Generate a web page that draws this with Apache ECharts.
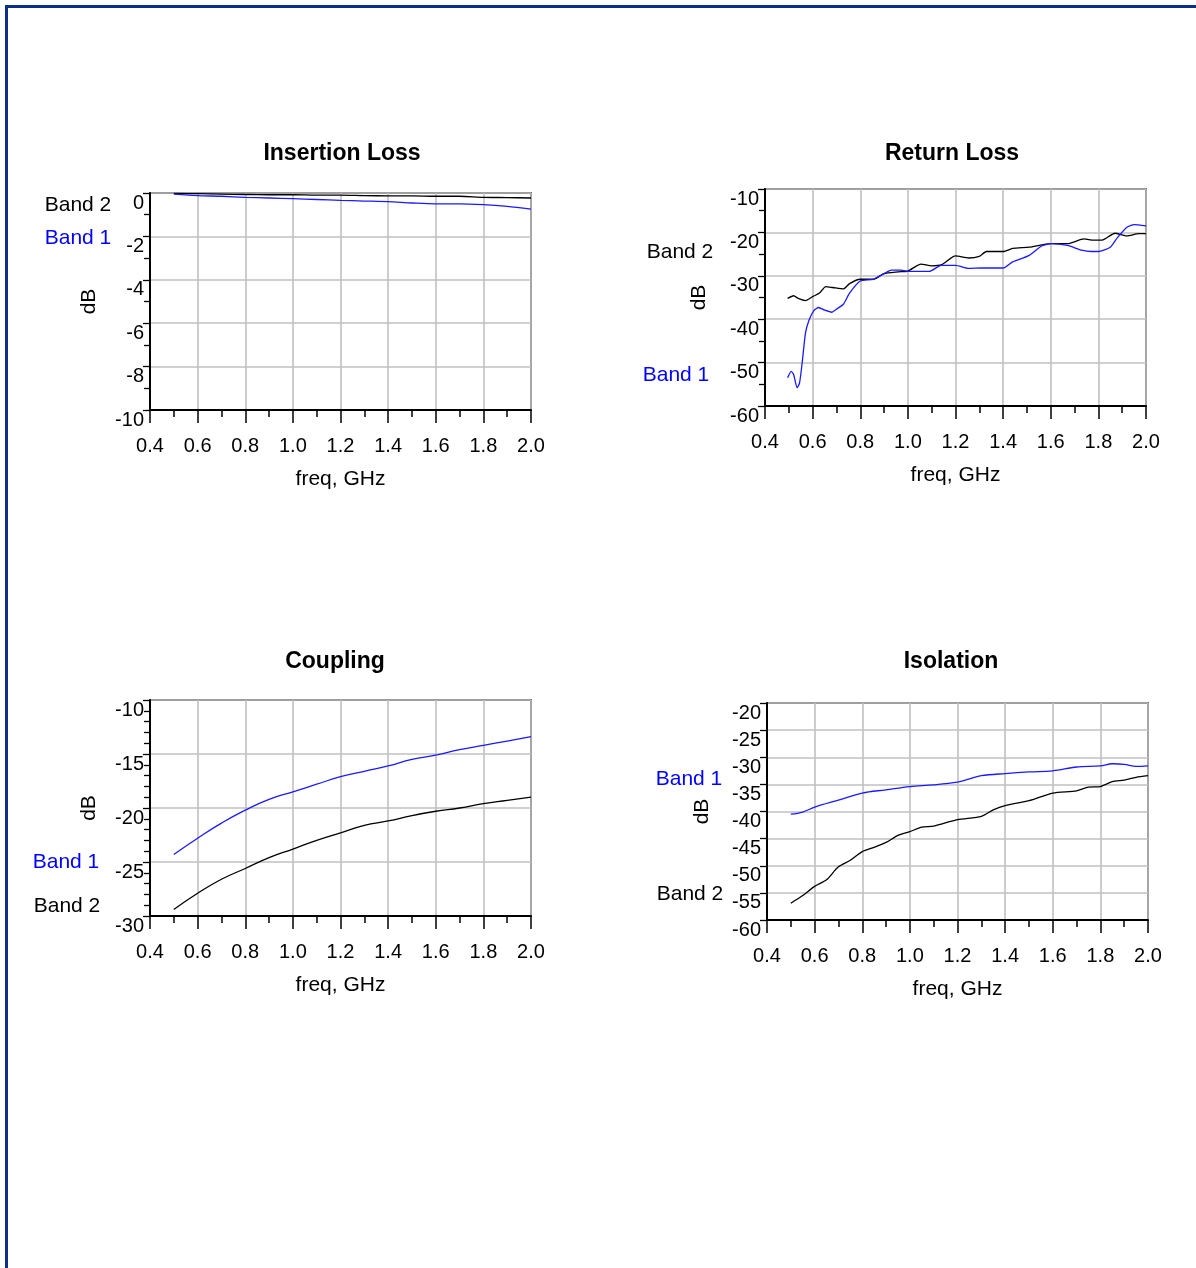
<!DOCTYPE html>
<html><head><meta charset="utf-8">
<script src="https://cdn.jsdelivr.net/npm/echarts@6/dist/echarts.min.js"></script>
<style>html,body{margin:0;padding:0;background:#fff;}#c{width:1196px;height:1268px;}</style>
</head><body><div id="c"></div>
<script>
// ---------- data ----------
const xTickLabels = ['0.4','0.6','0.8','1.0','1.2','1.4','1.6','1.8','2.0'];

// Insertion Loss
const ilFreq  = [0.5,0.6,0.7,0.8,0.9,1.0,1.1,1.2,1.3,1.4,1.5,1.6,1.7,1.8,1.9,2.0];
const ilBand1 = [-0.05,-0.12,-0.15,-0.2,-0.23,-0.26,-0.3,-0.34,-0.37,-0.4,-0.46,-0.5,-0.5,-0.54,-0.62,-0.74];
const ilBand2 = [-0.02,-0.03,-0.05,-0.07,-0.08,-0.08,-0.1,-0.1,-0.12,-0.13,-0.13,-0.15,-0.15,-0.2,-0.21,-0.23];

// Return Loss
const rlFreq2  = [0.495,0.52,0.54,0.57,0.6,0.63,0.655,0.685,0.73,0.755,0.8,0.855,0.9,0.96,1.0,1.055,1.1,1.14,1.2,1.255,1.3,1.33,1.4,1.44,1.51,1.6,1.67,1.74,1.78,1.82,1.87,1.92,1.97,2.0];
const rlBand2  = [-35.2,-34.6,-35.2,-35.7,-34.8,-33.9,-32.5,-32.7,-33,-31.8,-30.8,-30.8,-29.5,-29.1,-28.9,-27.3,-27.7,-27.5,-25.4,-25.9,-25.5,-24.4,-24.4,-23.7,-23.4,-22.6,-22.6,-21.5,-21.8,-21.7,-20.2,-20.8,-20.3,-20.3];
const rlFreq1  = [0.495,0.51,0.52,0.535,0.545,0.556,0.57,0.585,0.605,0.625,0.65,0.68,0.705,0.73,0.755,0.8,0.855,0.9,0.93,0.97,1.01,1.09,1.14,1.2,1.255,1.31,1.4,1.44,1.51,1.56,1.6,1.67,1.73,1.77,1.8,1.85,1.88,1.92,1.95,2.0];
const rlBand1  = [-53.5,-52,-52.7,-55.8,-54.7,-50.1,-43.2,-40.2,-38,-37.3,-37.9,-38.4,-37.5,-36.5,-34,-31.2,-30.8,-29.5,-28.7,-28.7,-29,-29,-27.6,-27.6,-28.3,-28.2,-28.2,-26.8,-25.3,-23.2,-22.6,-23,-24.1,-24.4,-24.4,-23.4,-21.2,-18.8,-18.2,-18.5];

// Coupling
const cpFreq  = [0.5,0.6,0.7,0.8,0.9,1.0,1.1,1.2,1.3,1.4,1.5,1.6,1.7,1.8,1.9,2.0];
const cpBand1 = [-24.3,-22.8,-21.4,-20.2,-19.2,-18.5,-17.8,-17.1,-16.6,-16.1,-15.5,-15.1,-14.6,-14.2,-13.8,-13.4];
const cpBand2 = [-29.4,-27.9,-26.6,-25.6,-24.6,-23.8,-23.0,-22.3,-21.6,-21.2,-20.7,-20.3,-20.0,-19.6,-19.3,-19.0];

// Isolation
const isFreq1  = [0.5,0.55,0.6,0.7,0.8,0.9,1.0,1.1,1.2,1.25,1.3,1.4,1.5,1.6,1.7,1.8,1.85,1.9,1.95,2.0];
const isBand1  = [-40.5,-40.1,-39.2,-37.9,-36.6,-36,-35.4,-35.1,-34.6,-34,-33.4,-33.0,-32.7,-32.5,-31.8,-31.6,-31.2,-31.3,-31.7,-31.6];
const isFreq2  = [0.5,0.55,0.6,0.65,0.7,0.75,0.8,0.85,0.9,0.95,1.0,1.05,1.1,1.2,1.3,1.35,1.4,1.5,1.6,1.7,1.75,1.8,1.85,1.9,1.95,2.0];
const isBand2  = [-56.9,-55.5,-53.8,-52.6,-50.2,-49,-47.4,-46.6,-45.7,-44.4,-43.7,-42.9,-42.7,-41.5,-40.9,-39.7,-38.9,-38,-36.6,-36.2,-35.5,-35.4,-34.5,-34.2,-33.7,-33.4];

// ---------- chart ----------
const FONT = '"Liberation Sans", Arial, Helvetica, sans-serif';
const BLUE_TXT = '#0000ff';
const BLUE_LINE = '#1a1aff';
const BLACK = '#000000';

const zip = (xs, ys) => xs.map((x, i) => [x, ys[i]]);

const grids = [
  {left:150, top:193, width:381, height:217},
  {left:765, top:189, width:381, height:217},
  {left:150, top:700, width:381, height:216},
  {left:767, top:703, width:381, height:217}
];
const yCfg = [
  {min:-10, max:0,   interval:2,  minor:2, gap:50},
  {min:-60, max:-10, interval:10, minor:2, gap:55},
  {min:-30, max:-10, interval:5,  minor:5, gap:50},
  {min:-60, max:-20, interval:5,  minor:0, gap:54}
];

const xAxes = grids.map((g, i) => ({
  type:'value', gridIndex:i, min:0.4, max:2.0, interval:0.2,
  name:'freq, GHz', nameLocation:'middle', nameGap:59,
  nameTextStyle:{color:BLACK, fontSize:21, fontFamily:FONT},
  axisLine:{show:true, onZero:false, lineStyle:{color:BLACK, width:2}},
  axisTick:{show:true, inside:false, length:13, lineStyle:{color:BLACK, width:1.5}},
  minorTick:{show:true, splitNumber:2, length:7, lineStyle:{color:BLACK, width:1.5}},
  splitLine:{show:true, lineStyle:{color:'#c0c0c0', width:1.6}},
  axisLabel:{color:BLACK, fontSize:20, fontFamily:FONT, margin:26,
    formatter: v => xTickLabels[Math.round((v - 0.4) / 0.2)] ?? v.toFixed(1)}
}));

const yAxes = grids.map((g, i) => {
  const c = yCfg[i];
  return {
    type:'value', gridIndex:i, min:c.min, max:c.max, interval:c.interval,
    name:'dB', nameLocation:'middle', nameGap:c.gap, nameRotate:90,
    nameTextStyle:{color:BLACK, fontSize:21, fontFamily:FONT},
    axisLine:{show:true, onZero:false, lineStyle:{color:BLACK, width:2}},
    axisTick:{show:true, inside:false, length:7, lineStyle:{color:BLACK, width:1.3}},
    minorTick:{show:c.minor > 0, splitNumber:c.minor || 2, length:6, lineStyle:{color:BLACK, width:1.3}},
    splitLine:{show:true, lineStyle:{color:'#c0c0c0', width:1.6}},
    axisLabel:{color:BLACK, fontSize:20, fontFamily:FONT, margin:6, verticalAlign:'top'}
  };
});

const mk = (name, idx, data, color, smooth) => ({
  name, type:'line', xAxisIndex:idx, yAxisIndex:idx, data,
  showSymbol:false, symbol:'none', smooth:smooth, silent:true,
  lineStyle:{color, width:1.3}, itemStyle:{color}
});

const series = [
  mk('Band 2', 0, zip(ilFreq, ilBand2), BLACK, 0.3),
  mk('Band 1', 0, zip(ilFreq, ilBand1), BLUE_LINE, 0.3),
  mk('Band 2', 1, zip(rlFreq2, rlBand2), BLACK, 0.2),
  mk('Band 1', 1, zip(rlFreq1, rlBand1), BLUE_LINE, 0.2),
  mk('Band 2', 2, zip(cpFreq, cpBand2), BLACK, 0.5),
  mk('Band 1', 2, zip(cpFreq, cpBand1), BLUE_LINE, 0.5),
  mk('Band 2', 3, zip(isFreq2, isBand2), BLACK, 0.25),
  mk('Band 1', 3, zip(isFreq1, isBand1), BLUE_LINE, 0.35)
];

const txt = (x, y, text, color, bold) => ({
  type:'text', x, y, silent:true,
  style:{text, fill:color, font:(bold ? 'bold 23px ' : '21px ') + FONT, textAlign:'center', textVerticalAlign:'middle', align:'center', verticalAlign:'middle'}
});

const graphic = [
  {type:'rect', shape:{x:5, y:5, width:1191, height:3}, style:{fill:'#0b2d8c'}, silent:true},
  {type:'rect', shape:{x:5, y:5, width:3, height:1263}, style:{fill:'#0b2d8c'}, silent:true},
  txt(342, 154, 'Insertion Loss', BLACK, true),
  txt(952, 154, 'Return Loss', BLACK, true),
  txt(335, 662, 'Coupling', BLACK, true),
  txt(951, 662, 'Isolation', BLACK, true),
  txt(78, 205, 'Band 2', BLACK),
  txt(78, 238, 'Band 1', BLUE_TXT),
  txt(680, 252, 'Band 2', BLACK),
  txt(676, 375, 'Band 1', BLUE_TXT),
  txt(66, 862, 'Band 1', BLUE_TXT),
  txt(67, 906, 'Band 2', BLACK),
  txt(689, 779, 'Band 1', BLUE_TXT),
  txt(690, 894, 'Band 2', BLACK)
];

const chart = echarts.init(document.getElementById('c'), null, {renderer:'canvas'});
chart.setOption({
  backgroundColor:'#ffffff',
  animation:false,
  grid: grids.map(g => Object.assign({show:true, borderColor:BLACK, borderWidth:1.5, backgroundColor:'transparent', containLabel:false}, g)),
  xAxis: xAxes,
  yAxis: yAxes,
  series,
  graphic
});
</script>
</body></html>
